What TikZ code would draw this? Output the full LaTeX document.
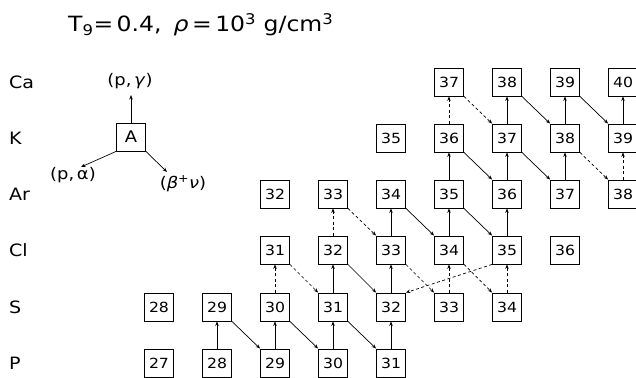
\documentclass[tikz,border=0pt]{standalone}
\usepackage{fontspec}
\setmainfont{DejaVu Sans}[FakeStretch=1.12]
\usetikzlibrary{arrows.meta}
\begin{document}
\begin{tikzpicture}[x=1pt,y=-1pt,
  box/.style={draw,line width=0.8pt,minimum width=29pt,minimum height=28pt,inner sep=0pt,font=\fontsize{14}{14}\selectfont},
  elem/.style={anchor=west,inner sep=0pt,font=\fontsize{17}{17}\selectfont},
  lbl/.style={inner sep=0pt,font=\fontsize{16}{16}\selectfont},
  pg/.style={line width=0.7pt,-{Stealth[length=4.5pt,width=3.5pt]}},
  pgd/.style={pg,dash pattern=on 3pt off 2.5pt}]
\useasboundingbox (0,0) rectangle (636,377);
% title
\node[anchor=base west,inner sep=0pt,font=\fontsize{21}{21}\selectfont] (title) at (68,32)
  {T\textsubscript{9}=\,0.4,\hspace{12pt}\textit{ρ}\,=\,10\textsuperscript{3} g/cm\textsuperscript{3}};
% element labels
\node[elem] (lCa) at (9,82) {Ca};
\node[elem] (lK)  at (9,138) {K};
\node[elem] (lAr) at (9,194) {Ar};
\node[elem] (lCl) at (9,250) {Cl};
\node[elem] (lS)  at (9,307) {S};
\node[elem] (lP)  at (9,363) {P};
% legend
\node[box,font=\fontsize{16}{16}\selectfont] (A) at (131,137) {A};
\coordinate (lgu) at (131,95);
\coordinate (lgl) at (81,167);
\coordinate (lgr) at (167,172);
\draw[pg] (A.north) -- (lgu);
\draw[pg] (A.south west) -- (lgl);
\draw[pg] (A.south east) -- (lgr);
\node[lbl] (tpg) at (130,81) {(p,\,\textit{γ})};
\node[lbl] (tpa) at (73,175) {(p,\,α)};
\node[lbl] (tbn) at (183,184) {(\textit{β}\textsuperscript{+}\textit{ν})};
% P row
\node[box] (P27) at (159,363) {27};
\node[box] (P28) at (217,363) {28};
\node[box] (P29) at (275,363) {29};
\node[box] (P30) at (333,363) {30};
\node[box] (P31) at (391,363) {31};
% S row
\node[box] (S28) at (159,307) {28};
\node[box] (S29) at (217,307) {29};
\node[box] (S30) at (275,307) {30};
\node[box] (S31) at (333,307) {31};
\node[box] (S32) at (391,307) {32};
\node[box] (S33) at (449,307) {33};
\node[box] (S34) at (507,307) {34};
% Cl row
\node[box] (Cl31) at (275,250) {31};
\node[box] (Cl32) at (333,250) {32};
\node[box] (Cl33) at (391,250) {33};
\node[box] (Cl34) at (449,250) {34};
\node[box] (Cl35) at (507,250) {35};
\node[box] (Cl36) at (565,250) {36};
% Ar row
\node[box] (Ar32) at (275,194) {32};
\node[box] (Ar33) at (333,194) {33};
\node[box] (Ar34) at (391,194) {34};
\node[box] (Ar35) at (449,194) {35};
\node[box] (Ar36) at (507,194) {36};
\node[box] (Ar37) at (565,194) {37};
\node[box] (Ar38) at (623,194) {38};
% K row
\node[box] (K35) at (391,138) {35};
\node[box] (K36) at (449,138) {36};
\node[box] (K37) at (507,138) {37};
\node[box] (K38) at (565,138) {38};
\node[box] (K39) at (623,138) {39};
% Ca row
\node[box] (Ca37) at (449,82) {37};
\node[box] (Ca38) at (507,82) {38};
\node[box] (Ca39) at (565,82) {39};
\node[box] (Ca40) at (623,82) {40};
% (p,gamma) solid
\foreach \a/\b in {P28/S29,P29/S30,P30/S31,P31/S32,S31/Cl32,S32/Cl33,Cl33/Ar34,Cl34/Ar35,Cl35/Ar36,Ar35/K36,Ar36/K37,K37/Ca38,Ar37/K38,K38/Ca39,K39/Ca40}
  \draw[pg] (\a.north) -- (\b.south);
% (p,gamma) dashed
\foreach \a/\b in {S30/Cl31,Cl32/Ar33,S33/Cl34,S34/Cl35,K36/Ca37,Ar38/K39}
  \draw[pgd] (\a.north) -- (\b.south);
% beta+ solid
\foreach \a/\b in {S29/P29,S30/P30,S31/P31,Cl32/S32,Ar34/Cl34,Ar35/Cl35,K36/Ar36,K37/Ar37,Ca38/K38,Ca39/K39}
  \draw[pg] (\a.south east) -- (\b.north west);
% beta+ dashed
\foreach \a/\b in {Cl31/S31,Ar33/Cl33,Cl33/S33,Cl34/S34,Ca37/K37,K38/Ar38}
  \draw[pgd] (\a.south east) -- (\b.north west);
% (p,alpha) dashed
\draw[pgd] (Cl35.south west) -- (S32.north east);
\end{tikzpicture}
\end{document}
